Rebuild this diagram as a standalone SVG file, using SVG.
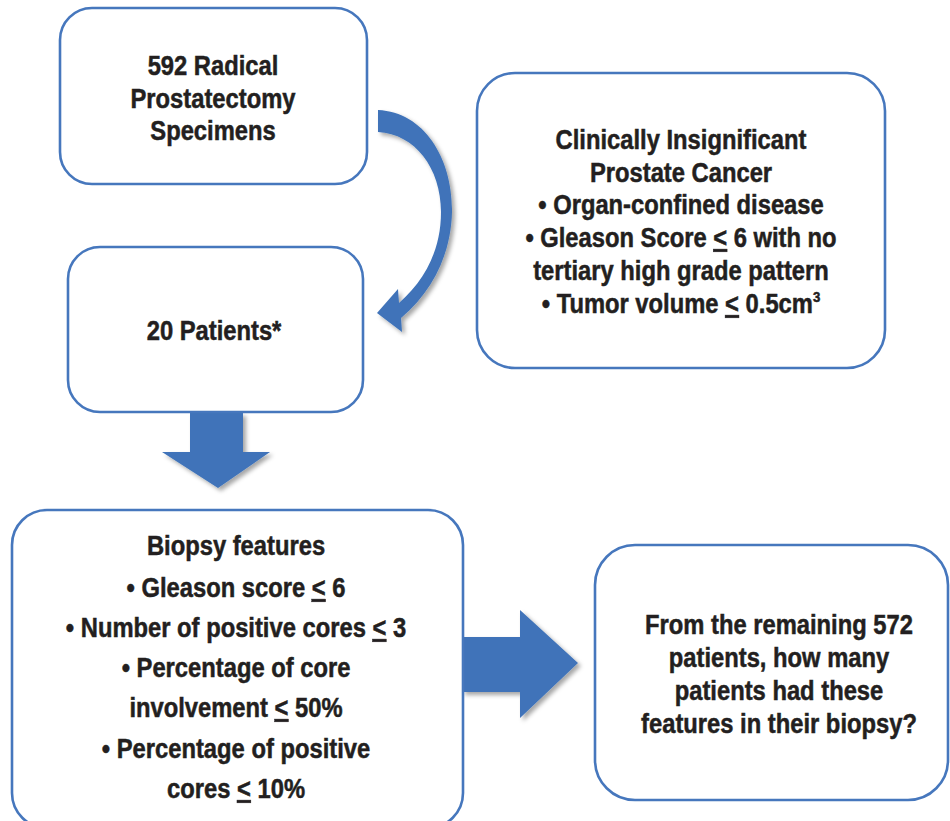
<svg xmlns="http://www.w3.org/2000/svg" width="950" height="821" viewBox="0 0 950 821">
<defs>
<style>
.box{fill:#ffffff;stroke:#4677bd;stroke-width:2.6}
.t{font-family:"Liberation Sans",Arial,sans-serif;font-weight:bold;font-size:27px;fill:#231f20;stroke:#231f20;stroke-width:0.5;text-anchor:middle}
.u{text-decoration:underline}
.arr{fill:#3f73b9;filter:url(#sh)}
</style>
<filter id="sh" x="-20%" y="-20%" width="150%" height="150%">
<feDropShadow dx="3" dy="3" stdDeviation="2" flood-color="#000000" flood-opacity="0.35"/>
</filter>
</defs>
<rect width="950" height="821" fill="#ffffff"/>
<g id="connectors">
<path class="arr" d="M378,110 C425,112 453,160 452,212 C451,255 432,292 401,318 L402,332 L377,313 L398,289 L399,303 C425,280 441,250 441,212 C441,168 415,134 378,132 Z"/>
<path class="arr" d="M190,413 L243,413 L243,452 L270,452 L218,488 L162,452 L190,452 Z"/>
<path class="arr" d="M462,637 L520,637 L520,610 L578,663 L520,718 L520,692 L462,692 Z"/>
</g>
<g id="node1">
<rect class="box" x="60" y="8" width="307" height="176" rx="32"/>
<g transform="translate(213 0) scale(0.88 1)">
<text class="t" x="0" y="75">592 Radical</text>
<text class="t" x="0" y="108">Prostatectomy</text>
<text class="t" x="0" y="140">Specimens</text>
</g>
</g>
<g id="node2">
<rect class="box" x="68" y="247" width="295" height="165" rx="32"/>
<g transform="translate(214 0) scale(0.88 1)">
<text class="t" x="0" y="340">20 Patients*</text>
</g>
</g>
<g id="node3">
<rect class="box" x="477" y="73" width="408" height="295" rx="38"/>
<g transform="translate(681 0) scale(0.88 1)">
<text class="t" x="0" y="149">Clinically Insignificant</text>
<text class="t" x="0" y="182">Prostate Cancer</text>
<text class="t" x="0" y="214">• Organ-confined disease</text>
<text class="t" x="0" y="247">• Gleason Score <tspan class="u">&lt;</tspan> 6 with no</text>
<text class="t" x="0" y="280">tertiary high grade pattern</text>
<text class="t" x="0" y="313">• Tumor volume <tspan class="u">&lt;</tspan> 0.5cm<tspan font-size="15" dy="-11">3</tspan></text>
</g>
</g>
<g id="node4">
<rect class="box" x="12" y="510" width="451" height="318" rx="35"/>
<g transform="translate(236 0) scale(0.88 1)">
<text class="t" x="0" y="555">Biopsy features</text>
<text class="t" x="0" y="597">• Gleason score <tspan class="u">&lt;</tspan> 6</text>
<text class="t" x="0" y="637">• Number of positive cores <tspan class="u">&lt;</tspan> 3</text>
<text class="t" x="0" y="677">• Percentage of core</text>
<text class="t" x="0" y="717">involvement <tspan class="u">&lt;</tspan> 50%</text>
<text class="t" x="0" y="758">• Percentage of positive</text>
<text class="t" x="0" y="798">cores <tspan class="u">&lt;</tspan> 10%</text>
</g>
</g>
<g id="node5">
<rect class="box" x="595" y="545" width="353" height="255" rx="40"/>
<g transform="translate(779 0) scale(0.88 1)">
<text class="t" x="0" y="634">From the remaining 572</text>
<text class="t" x="0" y="667">patients, how many</text>
<text class="t" x="0" y="700">patients had these</text>
<text class="t" x="0" y="733">features in their biopsy?</text>
</g>
</g>
</svg>
